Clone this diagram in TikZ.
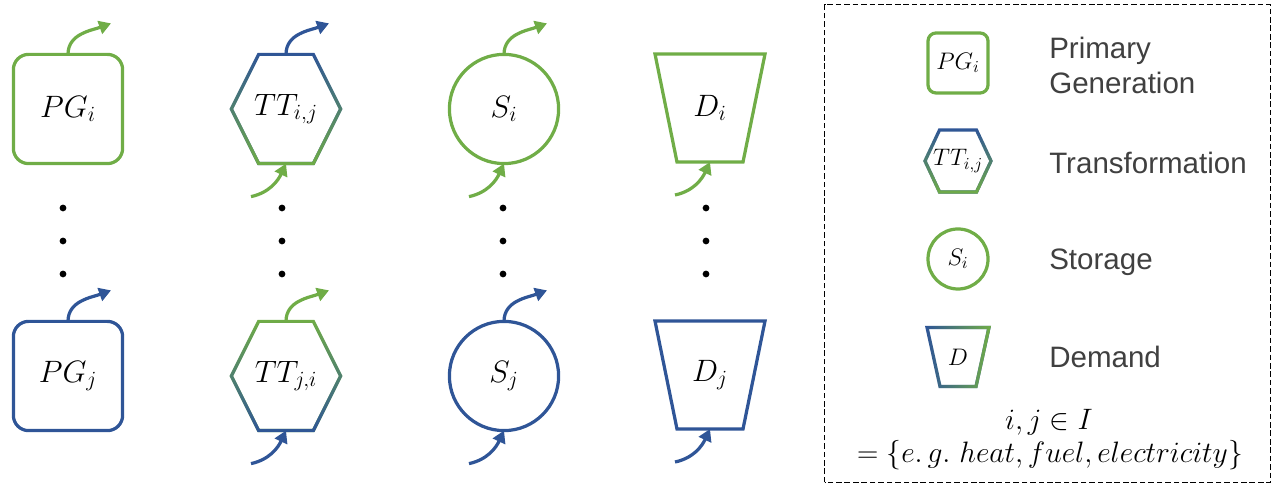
\RequirePackage{fix-cm}
\documentclass[tikz,border=0pt]{standalone}
\usepackage{fontspec}
\newfontfamily\legendfont{Liberation Sans}
\usepackage{tikz}
\usetikzlibrary{arrows.meta,positioning,calc,fadings}
\definecolor{esmgreen}{HTML}{70AD47}
\definecolor{esmblue}{HTML}{2F5597}
\definecolor{esmtext}{HTML}{404040}
\tikzset{
 esm line/.style={line width=2.3pt},
 esm flow/.style={-{Triangle[length=8.5pt,width=9.5pt]},line width=2.3pt},
 esm unit/.style={minimum width=2.73cm,minimum height=2.73cm,inner sep=0pt,
   outer sep=0pt,font=\fontsize{22}{26}\selectfont},
 esm gen/.style={esm unit,draw,esm line,rounded corners=.38cm},
 esm store/.style={esm unit,draw,esm line,circle,minimum size=2.73cm},
 esm key/.style={inner sep=0pt,outer sep=0pt,font=\fontsize{17}{20}\selectfont},
 esm text/.style={text=esmtext,anchor=west,align=left,inner sep=0pt,
   font=\legendfont\fontsize{21}{25}\selectfont},
}
% hexagon and trapezium outlines round a named node
\newcommand\hexpath[2]{(#1.west) -- ($(#1.north west)!#2!(#1.north east)$)
  -- ($(#1.north east)!#2!(#1.north west)$) -- (#1.east)
  -- ($(#1.south east)!#2!(#1.south west)$)
  -- ($(#1.south west)!#2!(#1.south east)$) -- cycle}
\newcommand\trappath[2]{(#1.north west) -- (#1.north east)
  -- ($(#1.south east)!#2!(#1.south west)$)
  -- ($(#1.south west)!#2!(#1.south east)$) -- cycle}

\begin{document}
\begin{tikzpicture}[x=0.025cm,y=0.025cm]
\useasboundingbox (0,0) rectangle (1273,485);
% units of carrier i (top) and j (bottom)
\node[esm gen,draw=esmgreen] (pgi) at (68,376) {$PG_i$};
\node[esm gen,draw=esmblue] (pgj) at (68,109) {$PG_j$};
\node[esm unit] (ttij) at (286,376) {$TT_{i,j}$};
\node[esm unit] (ttji) at (286,109) {$TT_{j,i}$};
\node[esm store,draw=esmgreen] (si) at (504,376) {$S_i$};
\node[esm store,draw=esmblue] (sj) at (504,109) {$S_j$};
\node[esm unit,minimum width=2.75cm,minimum height=2.7cm] (di) at (710,377) {$D_i$};
\node[esm unit,minimum width=2.75cm,minimum height=2.7cm] (dj) at (710,110) {$D_j$};
\draw[esm line,esmblue] \hexpath{ttij}{.25};
\draw[esm line,esmgreen,path fading=north] \hexpath{ttij}{.25};
\draw[esm line,esmgreen] \hexpath{ttji}{.25};
\draw[esm line,esmblue,path fading=north] \hexpath{ttji}{.25};
\draw[esm line,esmgreen] \trappath{di}{.2};
\draw[esm line,esmblue] \trappath{dj}{.2};
% outflows
\foreach \n/\c in {pgi/esmgreen,ttij/esmblue,si/esmgreen,
                   pgj/esmblue,ttji/esmgreen,sj/esmblue}{
  \coordinate (\n-out) at ($(\n.north)+(43,31)$);
  \draw[esm flow,\c] (\n.north) to[out=90,in=200] (\n-out);
}
% inflows
\foreach \n/\c in {ttij/esmgreen,si/esmgreen,di/esmgreen,
                   ttji/esmblue,sj/esmblue,dj/esmblue}{
  \coordinate (\n-in) at ($(\n.south)+(-35,-33)$);
  \draw[esm flow,\c] (\n-in) to[out=12,in=245] (\n.south);
}
\foreach \x in {63,282,503,706}
  \foreach \y in {277,244,211}
    \fill (\x,\y) circle (2.4pt);
% legend
\draw[line width=1.3pt,dash pattern=on 4pt off 2pt] (824.5,2.5) rectangle (1270.5,480.5);
\node[esm key,draw=esmgreen,esm line,rounded corners=.2cm,
  minimum width=1.5cm,minimum height=1.5cm] (kpg) at (958,422) {$PG_i$};
\node[esm key,minimum width=1.65cm,minimum height=1.55cm] (ktt) at (958,324) {$TT_{i,j}$};
\node[esm key,draw=esmgreen,esm line,circle,minimum size=1.5cm] (ks) at (958,226) {$S_i$};
\node[esm key,minimum width=1.55cm,minimum height=1.48cm] (kd) at (958,128) {$D$};
\draw[esm line,esmblue] \hexpath{ktt}{.22};
\draw[esm line,esmgreen,path fading=north] \hexpath{ktt}{.22};
\draw[esm line,esmblue] \trappath{kd}{.21};
\draw[esm line,esmgreen,path fading=west] \trappath{kd}{.21};
\node[esm text] (kpgtext) at (1049,419.5) {Primary\\Generation};
\node[esm text] (ktttext) at (1049,322) {Transformation};
\node[esm text] (kstext) at (1049,223) {Storage};
\node[esm text] (kdtext) at (1049,128) {Demand};
\node[font=\fontsize{21}{25}\selectfont] (carriers) at (1049,63) {$i,j\in I$};
\node[font=\fontsize{21}{25}\selectfont] (examples) at (1050,30)
  {$=\{e.\,g.\ heat,fuel,electricity\}$};
\end{tikzpicture}
\end{document}
